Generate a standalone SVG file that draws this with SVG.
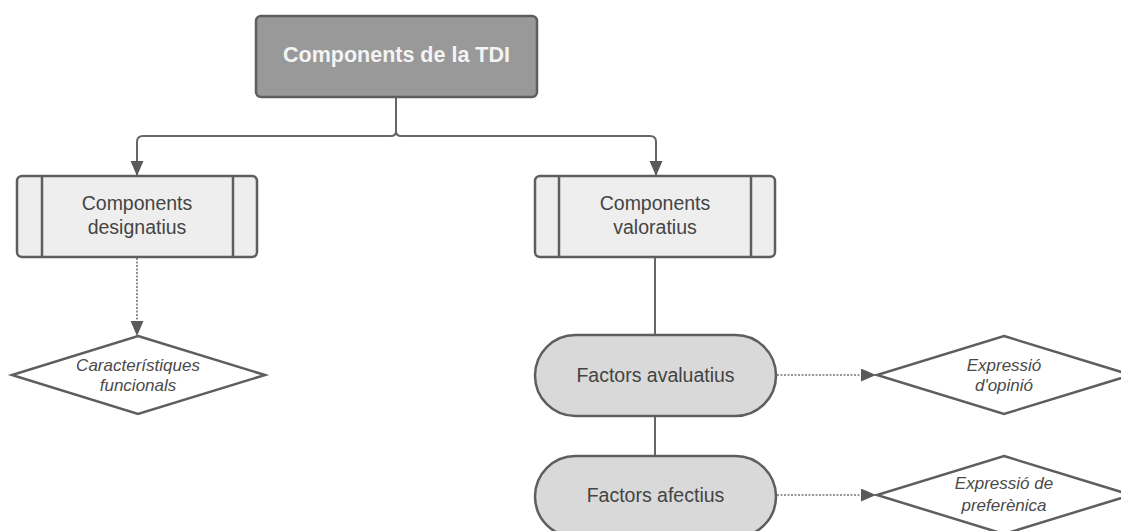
<svg xmlns="http://www.w3.org/2000/svg" width="1121" height="531" viewBox="0 0 1121 531">
<defs>
<style>
.ln{fill:none;stroke:#666;stroke-width:2}
.dot{fill:none;stroke:#777;stroke-width:1.6;stroke-dasharray:2 1.5}
.box{fill:#eeeeee;stroke:#5e5e5e;stroke-width:2.5}
.pill{fill:#d9d9d9;stroke:#5e5e5e;stroke-width:2.5}
.dia{fill:#fff;stroke:#5e5e5e;stroke-width:2.5}
.t{font-family:"Liberation Sans",Arial,sans-serif;font-size:19.5px;fill:#444;text-anchor:middle}
.ti{font-family:"Liberation Sans",Arial,sans-serif;font-size:17px;font-style:italic;fill:#4a4a4a;text-anchor:middle}
</style>
<marker id="ah" markerUnits="userSpaceOnUse" markerWidth="16" markerHeight="14" refX="15" refY="6.5" orient="auto">
<path d="M0,0 L15,6.5 L0,13 Z" fill="#5a5a5a"/>
</marker>
</defs>
<rect width="1121" height="531" fill="#fff"/>
<g id="connectors">
<path class="ln" d="M396,97 V131 Q396,136 391,136 H143 Q137,136 137,142 V176" marker-end="url(#ah)"/>
<path class="ln" d="M396,131 Q396,136 401,136 H650 Q656,136 656,142 V176" marker-end="url(#ah)"/>
<path class="dot" d="M137,258 V336" marker-end="url(#ah)"/>
<path class="ln" d="M655,258 V335"/>
<path class="ln" d="M655,416 V456"/>
<path class="dot" d="M777,375 H876" marker-end="url(#ah)"/>
<path class="dot" d="M777,495 H876" marker-end="url(#ah)"/>
</g>
<g id="n-top">
<rect x="256" y="16" width="281" height="81" rx="5" fill="#999999" stroke="#5e5e5e" stroke-width="2.5"/>
<text x="396.5" y="62" font-family="'Liberation Sans',Arial,sans-serif" font-size="21.5" font-weight="bold" fill="#f4f4f4" text-anchor="middle">Components de la TDI</text>
</g>
<g id="n-designatius">
<rect class="box" x="17" y="176" width="240" height="81" rx="5"/>
<line class="box" x1="42" y1="176" x2="42" y2="257"/>
<line class="box" x1="233" y1="176" x2="233" y2="257"/>
<text class="t" x="137" y="210">Components</text>
<text class="t" x="137" y="234">designatius</text>
</g>
<g id="n-valoratius">
<rect class="box" x="535" y="176" width="240" height="81" rx="5"/>
<line class="box" x1="559" y1="176" x2="559" y2="257"/>
<line class="box" x1="751" y1="176" x2="751" y2="257"/>
<text class="t" x="655" y="210">Components</text>
<text class="t" x="655" y="234">valoratius</text>
</g>
<g id="n-caracteristiques">
<polygon class="dia" points="138,336 265,375 138,414 12,375"/>
<text class="ti" x="138" y="371">Característiques</text>
<text class="ti" x="138" y="391">funcionals</text>
</g>
<g id="n-avaluatius">
<rect class="pill" x="535" y="335" width="241" height="81" rx="40.5"/>
<text class="t" x="655.5" y="382">Factors avaluatius</text>
</g>
<g id="n-afectius">
<rect class="pill" x="535" y="456" width="241" height="81" rx="40.5"/>
<text class="t" x="655.5" y="502">Factors afectius</text>
</g>
<g id="n-opinio">
<polygon class="dia" points="1004,336 1131,375 1004,414 877,375"/>
<text class="ti" x="1004" y="371">Expressió</text>
<text class="ti" x="1004" y="391">d'opinió</text>
</g>
<g id="n-preferencia">
<polygon class="dia" points="1004,456 1131,495 1004,534 877,495"/>
<text class="ti" x="1004" y="489">Expressió de</text>
<text class="ti" x="1004" y="511">preferènica</text>
</g>
</svg>
